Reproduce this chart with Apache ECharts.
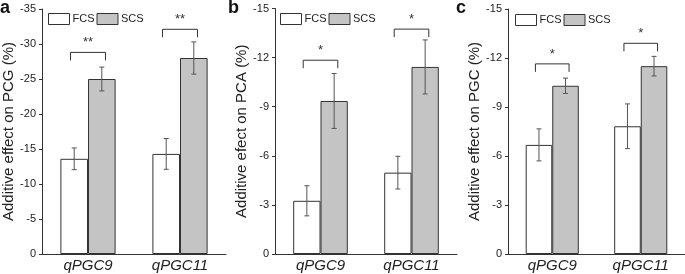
<!DOCTYPE html>
<html>
<head>
<meta charset="utf-8">
<script src="https://cdn.jsdelivr.net/npm/echarts@6/dist/echarts.min.js"></script>
<style>
  html, body { margin: 0; padding: 0; background: #fff; }
  #chart { width: 685px; height: 274px; }
</style>
</head>
<body>
<div id="chart"></div>
<script>
// data (negative = reduction)
const categories = ['qPGC9', 'qPGC11'];
const seriesNames = ['FCS', 'SCS'];

const pcgFCS = [-13.6, -14.3];
const pcgFCSErr = [1.55, 2.2];
const pcgSCS = [-25.0, -28.0];
const pcgSCSErr = [1.7, 2.3];

const pcaFCS = [-3.25, -4.97];
const pcaFCSErr = [0.92, 1.0];
const pcaSCS = [-9.35, -11.43];
const pcaSCSErr = [1.68, 1.65];

const pgcFCS = [-6.68, -7.82];
const pgcFCSErr = [0.98, 1.37];
const pgcSCS = [-10.3, -11.5];
const pgcSCSErr = [0.47, 0.6];

// significance brackets: level of bracket line and stars
const pcgBracket = [-28.8, -32.1];
const pcaBracket = [-11.84, -13.74];
const pgcBracket = [-11.64, -12.9];
const pcgStars = ['**', '**'];
const pcaStars = ['*', '*'];
const pgcStars = ['*', '*'];

const yNames = ['Additive effect on PCG (%)', 'Additive efect on PCA (%)', 'Additive effect on PGC (%)'];
const yMins = [-35, -15, -15];
const yIntervals = [5, 3, 3];
const panelLetters = ['a', 'b', 'c'];

const FONT = '"Liberation Sans", Arial, sans-serif';
const panels = [
  { fcs: pcgFCS, fcsErr: pcgFCSErr, scs: pcgSCS, scsErr: pcgSCSErr, br: pcgBracket, stars: pcgStars },
  { fcs: pcaFCS, fcsErr: pcaFCSErr, scs: pcaSCS, scsErr: pcaSCSErr, br: pcaBracket, stars: pcaStars },
  { fcs: pgcFCS, fcsErr: pgcFCSErr, scs: pgcSCS, scsErr: pgcSCSErr, br: pgcBracket, stars: pgcStars }
];
const gridPos = [
  { left: 42, top: 9, width: 184, height: 245 },
  { left: 275, top: 8.5, width: 182, height: 245.5 },
  { left: 508, top: 9, width: 184, height: 245 }
];
const legendPos = [{ left: 48, top: 13 }, { left: 280, top: 13 }, { left: 515, top: 14 }];

function errorRender(offset) {
  return function (params, api) {
    const cat = api.value(0);
    const lo = api.coord([cat, api.value(1)]);
    const hi = api.coord([cat, api.value(2)]);
    const band = api.size([1, 0])[0];
    const x = lo[0] + offset * band;
    const style = { stroke: '#555', lineWidth: 1 };
    return {
      type: 'group',
      children: [
        { type: 'line', shape: { x1: x, y1: lo[1], x2: x, y2: hi[1] }, style },
        { type: 'line', shape: { x1: x - 2.5, y1: lo[1], x2: x + 2.5, y2: lo[1] }, style },
        { type: 'line', shape: { x1: x - 2.5, y1: hi[1], x2: x + 2.5, y2: hi[1] }, style }
      ]
    };
  };
}

function bracketRender(stars) {
  return function (params, api) {
    const cat = api.value(0);
    const p = api.coord([cat, api.value(1)]);
    const band = api.size([1, 0])[0];
    const hw = band * 0.19;
    const style = { stroke: '#333', lineWidth: 1, fill: null };
    return {
      type: 'group',
      children: [
        {
          type: 'polyline',
          shape: { points: [[p[0] - hw, p[1] + 8], [p[0] - hw, p[1]], [p[0] + hw, p[1]], [p[0] + hw, p[1] + 8]] },
          style
        },
        {
          type: 'text',
          x: p[0], y: p[1] - 3,
          style: { text: stars[params.dataIndex], font: '13px ' + FONT, fill: '#333', align: 'center', verticalAlign: 'bottom' }
        }
      ]
    };
  };
}

const grids = [], xAxes = [], yAxes = [], series = [], legends = [], titles = [];
panels.forEach((pn, i) => {
  grids.push(gridPos[i]);
  xAxes.push({
    type: 'category',
    gridIndex: i,
    data: categories,
    axisLine: { lineStyle: { color: '#333', width: 1 } },
    axisTick: { length: 3, lineStyle: { color: '#333' } },
    axisLabel: { fontSize: 15, fontStyle: 'italic', color: '#222', fontFamily: FONT, margin: 4 }
  });
  yAxes.push({
    type: 'value',
    gridIndex: i,
    inverse: true,
    min: yMins[i],
    max: 0,
    interval: yIntervals[i],
    name: yNames[i],
    nameLocation: 'middle',
    nameGap: 26,
    nameTextStyle: { fontSize: 15, color: '#222', fontFamily: FONT },
    splitLine: { show: false },
    axisLine: { show: true, lineStyle: { color: '#333', width: 1 } },
    axisTick: { show: true, length: 3, lineStyle: { color: '#333' } },
    axisLabel: { fontSize: 11, color: '#222', fontFamily: FONT, margin: 6 }
  });
  series.push({
    name: 'FCS', type: 'bar', xAxisIndex: i, yAxisIndex: i,
    data: pn.fcs, barGap: '0%', barCategoryGap: '40%',
    itemStyle: { color: '#ffffff', borderColor: '#333', borderWidth: 1 }
  });
  series.push({
    name: 'SCS', type: 'bar', xAxisIndex: i, yAxisIndex: i,
    data: pn.scs, barGap: '0%', barCategoryGap: '40%',
    itemStyle: { color: '#c4c4c4', borderColor: '#333', borderWidth: 1 }
  });
  series.push({
    type: 'custom', xAxisIndex: i, yAxisIndex: i, z: 5,
    renderItem: errorRender(-0.15),
    data: pn.fcs.map((v, k) => [k, v - pn.fcsErr[k], v + pn.fcsErr[k]])
  });
  series.push({
    type: 'custom', xAxisIndex: i, yAxisIndex: i, z: 5,
    renderItem: errorRender(0.15),
    data: pn.scs.map((v, k) => [k, v - pn.scsErr[k], v + pn.scsErr[k]])
  });
  series.push({
    type: 'custom', xAxisIndex: i, yAxisIndex: i, z: 5,
    renderItem: bracketRender(pn.stars),
    data: pn.br.map((v, k) => [k, v])
  });
  legends.push({
    left: legendPos[i].left, top: legendPos[i].top, padding: 0,
    data: seriesNames, icon: 'rect', itemWidth: 21, itemHeight: 11, itemGap: 2,
    itemStyle: { borderColor: '#333', borderWidth: 1 },
    textStyle: { fontSize: 11, color: '#222', fontFamily: FONT, padding: [0, 0, 0, -2] }
  });
  titles.push({
    text: panelLetters[i], left: [0, 228, 456][i], top: -1, padding: 0,
    textStyle: { fontSize: 18, fontWeight: 'bold', color: '#111', fontFamily: FONT }
  });
});

const myChart = echarts.init(document.getElementById('chart'), null, { renderer: 'canvas' });
const option = {
  animation: false,
  backgroundColor: '#fff',
  title: titles,
  legend: legends,
  grid: grids,
  xAxis: xAxes,
  yAxis: yAxes,
  series: series
};
myChart.setOption(option);
</script>
</body>
</html>
